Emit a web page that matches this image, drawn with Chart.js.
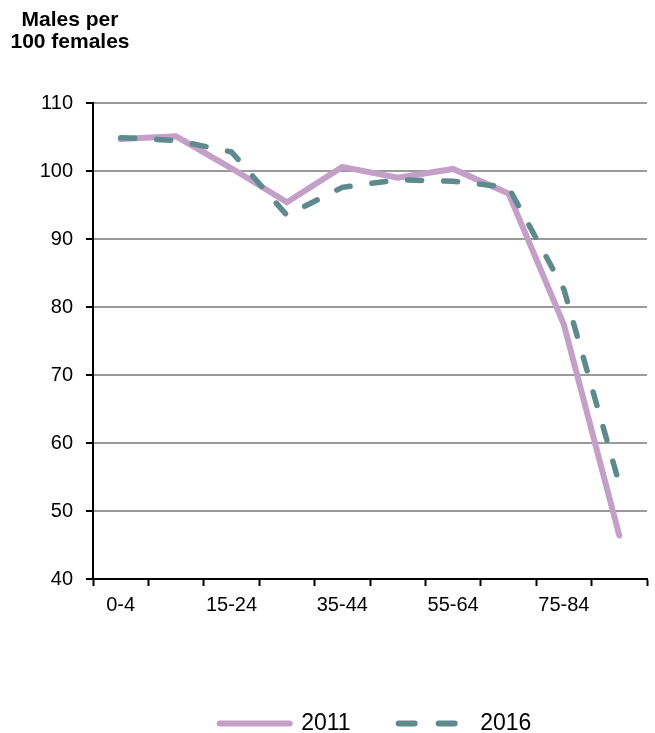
<!DOCTYPE html>
<html>
<head>
<meta charset="utf-8">
<script src="https://cdn.jsdelivr.net/npm/chart.js@4.4.0/dist/chart.umd.min.js"></script>
<style>
  html, body { margin: 0; padding: 0; background: #fff; }
  #wrap { width: 655px; height: 733px; position: relative; }
</style>
</head>
<body>
<div id="wrap"><canvas id="c"></canvas></div>
<script>
// Datos
const ageGroups = ['0-4','5-14','15-24','25-34','35-44','45-54','55-64','65-74','75-84','85+'];
const ratio2011 = [104.7, 105.1, 100.4, 95.4, 100.6, 99.0, 100.3, 96.7, 77.4, 46.4];
const ratio2016 = [104.9, 104.5, 102.8, 93.5, 97.6, 98.7, 98.5, 97.6, 82.6, 54.0];
const yTicks = [40, 50, 60, 70, 80, 90, 100, 110];
const titleLines = ['Males per', '100 females'];

const FONT = 'Liberation Sans, Arial, sans-serif';

// Título arriba a la izquierda
const titlePlugin = {
  id: 'leftTitle',
  afterDraw(chart) {
    const ctx = chart.ctx;
    ctx.save();
    ctx.fillStyle = '#000';
    ctx.font = 'bold 21px ' + FONT;
    ctx.textAlign = 'center';
    ctx.textBaseline = 'alphabetic';
    ctx.fillText(titleLines[0], 70, 26);
    ctx.fillText(titleLines[1], 70, 48);
    ctx.restore();
  }
};

// Leyenda un poco desplazada a la derecha, como en el original
const legendShift = {
  id: 'legendShift',
  afterLayout(chart) {
    const lg = chart.legend;
    if (lg) { lg.left += 52; lg.right += 52; }
  }
};

new Chart(document.getElementById('c'), {
  type: 'line',
  data: {
    labels: ageGroups,
    datasets: [
      {
        label: '2011', data: ratio2011, order: 2,
        borderColor: '#c4a0c9', borderWidth: 6, pointRadius: 0,
        pointStyle: 'line', tension: 0, borderCapStyle: 'round', borderJoinStyle: 'miter'
      },
      {
        label: '2016', data: ratio2016, order: 1,
        borderColor: '#5e8a8e', borderWidth: 5.5, pointRadius: 0,
        pointStyle: 'line', tension: 0, borderDash: [14, 22], borderCapStyle: 'round'
      }
    ]
  },
  options: {
    responsive: true,
    maintainAspectRatio: false,
    animation: false,
    layout: { padding: { top: 103, right: 8, left: 0, bottom: -12 } },
    plugins: {
      tooltip: { enabled: false },
      legend: {
        position: 'bottom',
        labels: {
          usePointStyle: true,
          pointStyleWidth: 70,
          padding: 48,
          color: '#000',
          font: { family: FONT, size: 23 },
          sort: (a, b) => a.datasetIndex - b.datasetIndex,
          generateLabels(chart) {
            const items = Chart.defaults.plugins.legend.labels.generateLabels(chart);
            items.forEach(it => {
              const ds = chart.data.datasets[it.datasetIndex];
              it.lineDash = ds.borderDash ? [16, 24] : [];
              it.lineCap = 'round';
              it.lineWidth = 6;
            });
            return items;
          }
        }
      }
    },
    scales: {
      x: {
        offset: true,
        afterFit(s) { s.height = 85; },
        grid: { display: true, offset: true, drawOnChartArea: false, tickLength: 7, tickColor: '#000', tickWidth: 2 },
        border: { color: '#000', width: 2 },
        ticks: {
          autoSkip: false, maxRotation: 0, padding: 7, color: '#000',
          font: { family: FONT, size: 20 },
          callback(v, i) { return i % 2 === 0 ? ageGroups[i] : ''; }
        }
      },
      y: {
        min: yTicks[0], max: yTicks[yTicks.length - 1],
        afterFit(s) { s.width = 93; },
        afterBuildTicks(s) { s.ticks = yTicks.map(v => ({ value: v })); },
        grid: { color: '#9a9a9a', lineWidth: 2, tickLength: 7, tickColor: '#000', tickWidth: 2 },
        border: { color: '#000', width: 2 },
        ticks: { padding: 13, color: '#000', font: { family: FONT, size: 20 } }
      }
    }
  },
  plugins: [titlePlugin, legendShift]
});
</script>
</body>
</html>
